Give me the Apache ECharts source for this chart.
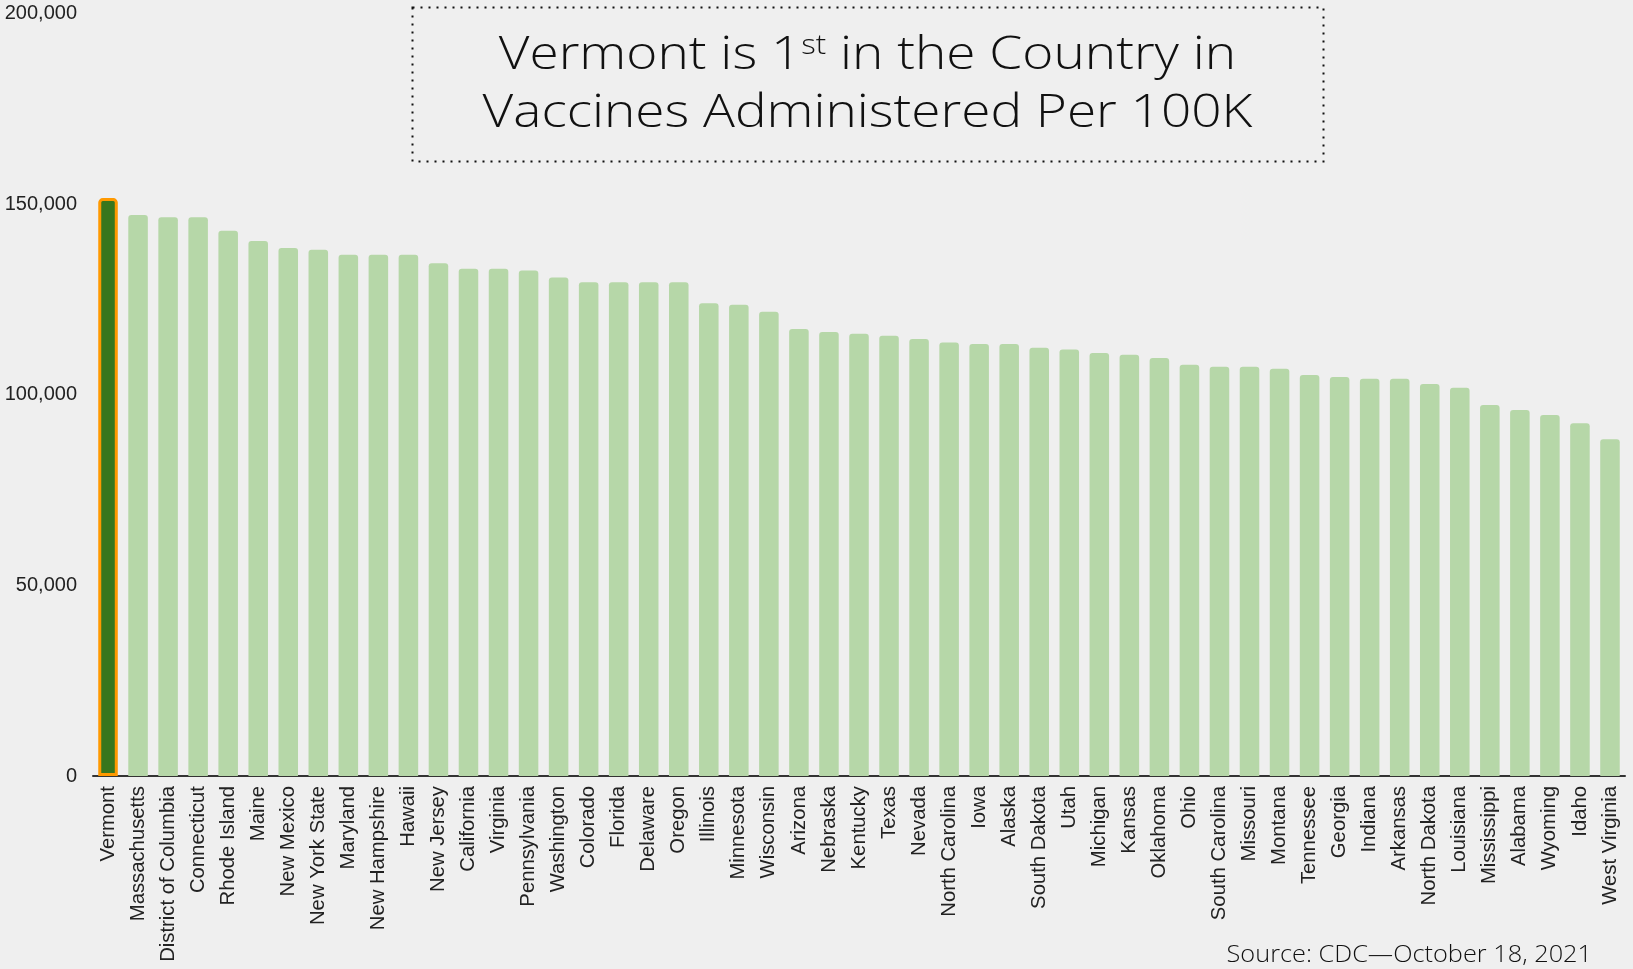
<!DOCTYPE html>
<html>
<head>
<meta charset="utf-8">
<title>Vaccines Administered Per 100K</title>
<script src="https://cdn.jsdelivr.net/npm/echarts@6/dist/echarts.min.js"></script>
<style>
  html, body { margin: 0; padding: 0; background: #efefef; }
  #chart { width: 1633px; height: 969px; }
</style>
</head>
<body>
<div id="chart"></div>
<script>
// Doses administered per 100K residents, by state (CDC, October 18, 2021)
const states = [
  'Vermont', 'Massachusetts', 'District of Columbia', 'Connecticut', 'Rhode Island',
  'Maine', 'New Mexico', 'New York State', 'Maryland', 'New Hampshire',
  'Hawaii', 'New Jersey', 'California', 'Virginia', 'Pennsylvania',
  'Washington', 'Colorado', 'Florida', 'Delaware', 'Oregon',
  'Illinois', 'Minnesota', 'Wisconsin', 'Arizona', 'Nebraska',
  'Kentucky', 'Texas', 'Nevada', 'North Carolina', 'Iowa',
  'Alaska', 'South Dakota', 'Utah', 'Michigan', 'Kansas',
  'Oklahoma', 'Ohio', 'South Carolina', 'Missouri', 'Montana',
  'Tennessee', 'Georgia', 'Indiana', 'Arkansas', 'North Dakota',
  'Louisiana', 'Mississippi', 'Alabama', 'Wyoming', 'Idaho',
  'West Virginia'
];

const dosesPer100k = [
  151600, 147150, 146550, 146550, 143030,
  140330, 138490, 138050, 136740, 136740,
  136740, 134480, 133070, 133070, 132640,
  130800, 129500, 129500, 129500, 129500,
  123990, 123630, 121790, 117250, 116460,
  116020, 115500, 114630, 113750, 113310,
  113310, 112350, 111910, 110950, 110510,
  109640, 107890, 107370, 107370, 106840,
  105180, 104660, 104220, 104220, 102820,
  101850, 97310, 96000, 94690, 92510,
  88320
];

const highlighted = 'Vermont';

const yTicks = [0, 50000, 100000, 150000, 200000];

const titleLine1 = ['Vermont is 1', 'st', ' in the Country in'];
const titleLine2 = 'Vaccines Administered Per 100K';
const sourceNote = 'Source: CDC\u2014October 18, 2021';

const barData = states.map((s, i) => {
  const item = { value: dosesPer100k[i] };
  if (s === highlighted) {
    item.itemStyle = { color: '#38761d', borderColor: '#ff9900', borderWidth: 3 };
  }
  return item;
});

const chart = echarts.init(document.getElementById('chart'), null, { renderer: 'canvas' });

chart.setOption({
  backgroundColor: '#efefef',
  animation: false,
  grid: { left: 93, right: 8, top: 13.6, bottom: 193, containLabel: false },
  xAxis: {
    type: 'category',
    data: states,
    axisLine: { lineStyle: { color: '#333', width: 2 } },
    axisTick: { show: false },
    axisLabel: {
      rotate: 90,
      interval: 0,
      margin: 10,
      fontFamily: 'Liberation Sans, Arial, sans-serif',
      fontSize: 20.3,
      color: '#222'
    }
  },
  yAxis: {
    type: 'value',
    min: yTicks[0],
    max: yTicks[yTicks.length - 1],
    interval: yTicks[1] - yTicks[0],
    axisLine: { show: false },
    axisTick: { show: false },
    splitLine: { show: false },
    axisLabel: {
      margin: 16,
      fontFamily: 'Liberation Sans, Arial, sans-serif',
      fontSize: 20,
      color: '#222',
      formatter: v => v.toLocaleString('en-US')
    }
  },
  series: [{
    type: 'bar',
    data: barData,
    barCategoryGap: '35%',
    itemStyle: { color: '#b6d7a8', borderRadius: [3, 3, 0, 0] }
  }],
  graphic: [
    {
      // dotted frame around the headline
      type: 'rect',
      shape: { x: 412.5, y: 7.5, width: 911, height: 154 },
      style: { fill: 'none', stroke: '#111', lineWidth: 2, lineDash: [2, 6] },
      silent: true
    },
    {
      // headline, widened to a geometric-sans proportion
      type: 'text',
      x: 867.5,
      y: 84.5,
      scaleX: 1.155,
      style: {
        text: '{m|' + titleLine1[0] + '}{sup|' + titleLine1[1] + '}{m|' + titleLine1[2] + '}\n{m|' + titleLine2 + '}',
        align: 'center',
        verticalAlign: 'middle',
        rich: {
          m: { fontFamily: 'Open Sans', fontWeight: 300, fontSize: 46, lineHeight: 58, fill: '#111' },
          sup: { fontFamily: 'Open Sans', fontWeight: 300, fontSize: 27, lineHeight: 28, verticalAlign: 'top', padding: [6, 0, 0, 0], fill: '#111' }
        }
      },
      silent: true
    },
    {
      type: 'text',
      x: 1592,
      y: 955.5,
      scaleX: 1.055,
      style: {
        text: sourceNote,
        align: 'right',
        verticalAlign: 'middle',
        fontFamily: 'Open Sans',
        fontWeight: 300,
        fontSize: 24,
        fill: '#111'
      },
      silent: true
    }
  ]
});
</script>
</body>
</html>
